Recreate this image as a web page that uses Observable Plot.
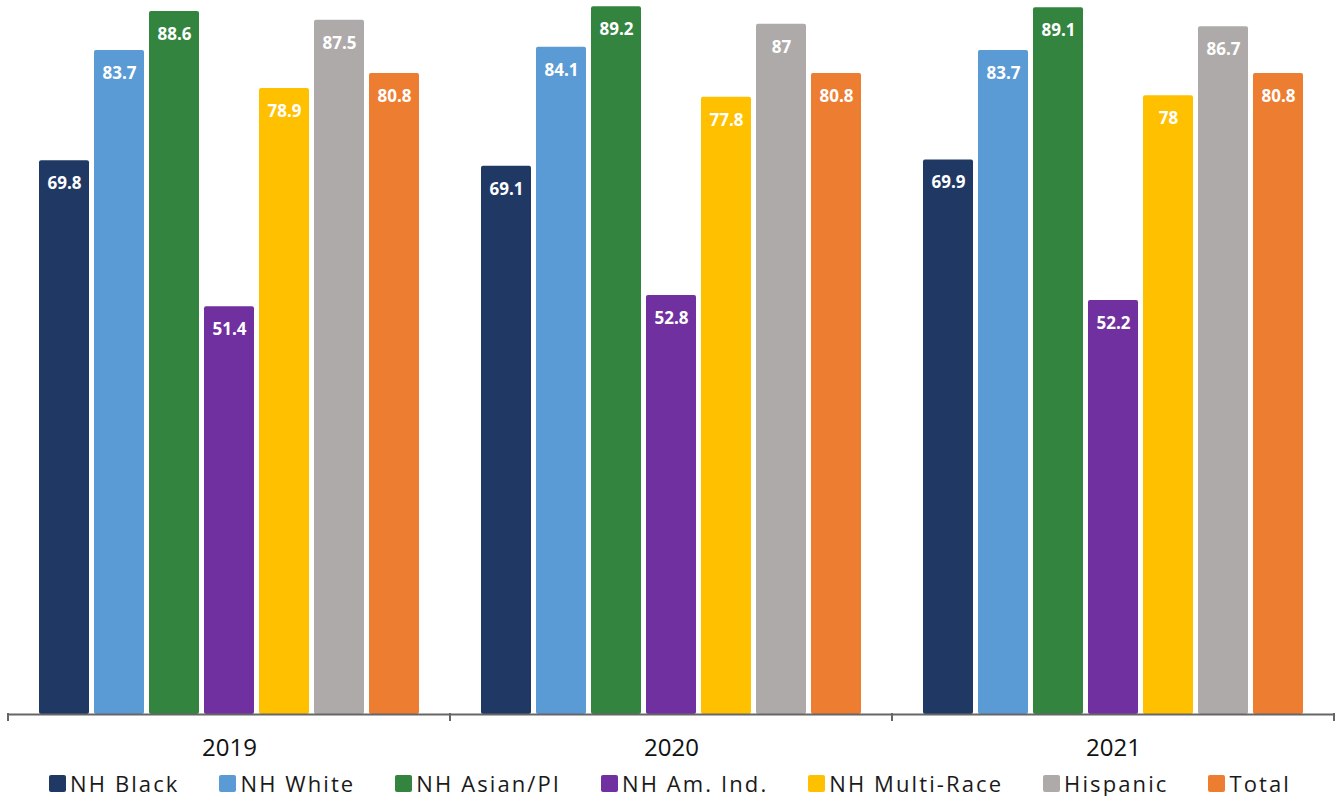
<!DOCTYPE html>
<html>
<head>
<meta charset="utf-8">
<script src="https://cdn.jsdelivr.net/npm/d3@7"></script>
<script src="https://cdn.jsdelivr.net/npm/@observablehq/plot@0.6"></script>
<style>
  body { margin: 0; background: #fff; font-family: "Open Sans", sans-serif; }
  #legend { display: flex; justify-content: center; align-items: center; gap: 40px; margin-top: 0px; font-size: 22px; color: #1a1a1a; letter-spacing: 2.1px; line-height: 26px; }
  .item { display: flex; align-items: center; }
  .sw { width: 17px; height: 17px; border-radius: 2px; margin-right: 4px; }
</style>
</head>
<body>
<div id="chart"></div>
<div id="legend"></div>
<script>
const years = ["2019", "2020", "2021"];
const groups = ["NH Black", "NH White", "NH Asian/PI", "NH Am. Ind.", "NH Multi-Race", "Hispanic", "Total"];
const colors = ["#203864", "#5B9BD5", "#33843F", "#7030A0", "#FFC000", "#AEAAAA", "#ED7D31"];
const values2019 = [69.8, 83.7, 88.6, 51.4, 78.9, 87.5, 80.8];
const values2020 = [69.1, 84.1, 89.2, 52.8, 77.8, 87, 80.8];
const values2021 = [69.9, 83.7, 89.1, 52.2, 78, 86.7, 80.8];

const series = [values2019, values2020, values2021];
const data = years.flatMap((yr, i) => groups.map((g, j) => ({year: yr, group: g, value: series[i][j]})));

const chart = Plot.plot({
  width: 1340,
  height: 770,
  marginTop: 0,
  marginLeft: 8,
  marginRight: 6,
  marginBottom: 56,
  style: {fontFamily: "Open Sans, sans-serif", background: "#fff"},
  fx: {domain: years, padding: 0, label: null},
  x: {domain: groups, paddingInner: 0.0909, paddingOuter: 0.55, axis: null},
  y: {domain: [0, 90], axis: null},
  color: {domain: groups, range: colors},
  marks: [
    Plot.barY(data, {fx: "year", x: "group", y: "value", fill: "group", rx: 2}),
    Plot.text(data, {fx: "year", x: "group", y: "value", text: d => String(d.value), dy: 23, fill: "white", fontWeight: "bold", fontSize: 17}),
    Plot.ruleY([0], {stroke: "#666", strokeWidth: 2}),
    Plot.axisFx({anchor: "bottom", tickSize: 0, tickPadding: 24, fontSize: 24, label: null, fill: "#111"})
  ]
});
document.getElementById("chart").appendChild(chart);

// boundary ticks from the fx scale
const fx = chart.scale("fx");
const y = chart.scale("y");
const y0 = y.apply(0);
const bounds = fx.domain.map(d => fx.apply(d)).concat([fx.apply(fx.domain[fx.domain.length - 1]) + fx.bandwidth]);
const svg = d3.select(chart);
svg.append("g").selectAll("line").data(bounds).join("line")
  .attr("x1", d => d).attr("x2", d => d)
  .attr("y1", y0 - 1).attr("y2", y0 + 7)
  .attr("stroke", "#666").attr("stroke-width", 2);

const legend = d3.select("#legend");
groups.forEach((g, i) => {
  const it = legend.append("div").attr("class", "item");
  it.append("div").attr("class", "sw").style("background", colors[i]);
  it.append("span").text(g);
});
</script>
</body>
</html>
